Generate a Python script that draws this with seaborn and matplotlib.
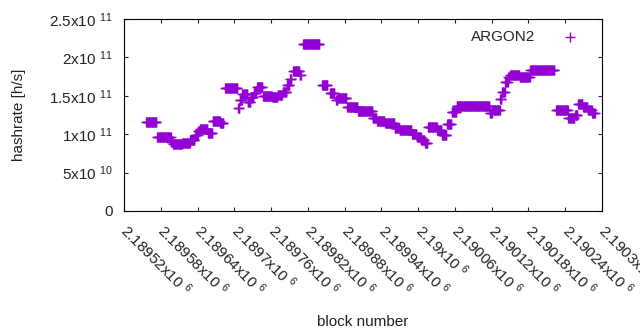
import numpy as np
import pandas as pd
import seaborn as sns
import matplotlib.pyplot as plt

## runs of blocks with the same estimated hashrate (block from, block to, rate in 10^9 h/s)
seg_start = [2189556, 2189574, 2189597, 2189600, 2189615, 2189628, 2189636, 2189641, 2189644, 2189657,
             2189665, 2189677, 2189685, 2189706, 2189709, 2189713, 2189722, 2189727, 2189732, 2189737,
             2189747, 2189762, 2189771, 2189779, 2189786, 2189791, 2189796, 2189807, 2189812, 2189843,
             2189856, 2189866, 2189869, 2189884, 2189902, 2189926, 2189933, 2189946, 2189962, 2189970,
             2189990, 2189998, 2190005, 2190011, 2190016, 2190031, 2190039, 2190047, 2190055, 2190063,
             2190117, 2190121, 2190134, 2190137, 2190142, 2190147, 2190150, 2190166, 2190183, 2190225,
             2190245, 2190256, 2190261, 2190269, 2190277, 2190284]
seg_end = [2189574, 2189597, 2189600, 2189615, 2189628, 2189636, 2189641, 2189644, 2189657, 2189665,
           2189677, 2189683, 2189706, 2189709, 2189713, 2189722, 2189727, 2189732, 2189737, 2189747,
           2189762, 2189771, 2189779, 2189786, 2189791, 2189794, 2189807, 2189810, 2189840, 2189853,
           2189864, 2189869, 2189884, 2189902, 2189926, 2189933, 2189946, 2189962, 2189970, 2189990,
           2189998, 2190005, 2190011, 2190016, 2190031, 2190039, 2190047, 2190055, 2190063, 2190117,
           2190121, 2190134, 2190137, 2190142, 2190147, 2190150, 2190166, 2190183, 2190223, 2190245,
           2190256, 2190261, 2190269, 2190277, 2190284, 2190289]
seg_rate = [116, 97, 90, 87, 89, 92, 99, 104, 107, 102,
            117, 115, 160, 134, 145, 152, 142, 148, 154, 162,
            150, 148, 151, 155, 164, 172, 182, 177, 218, 164,
            153, 145, 147, 136, 130, 121, 117, 114, 108, 105,
            100, 96, 92, 88, 109, 106, 99, 113, 129, 137,
            128, 132, 146, 155, 168, 175, 177, 174, 183, 132,
            121, 125, 139, 136, 132, 127]

x_ticks = np.arange(2189520, 2190301, 60)
y_ticks = [0, 5e10, 1e11, 1.5e11, 2e11, 2.5e11]
y_tick_labels = ['0', '5x10 $^{10}$', '1x10 $^{11}$', '1.5x10 $^{11}$', '2x10 $^{11}$', '2.5x10 $^{11}$']

## one row per block
blocks, rates = [], []
for s, e, r in zip(seg_start, seg_end, seg_rate):
    b = np.arange(s, e)
    blocks.extend(b)
    rates.extend([r * 1e9] * len(b))
df = pd.DataFrame({'block': blocks, 'hashrate': rates})

sns.set_style('ticks')
plt.rcParams['font.family'] = ['Liberation Sans', 'DejaVu Sans']
plt.rcParams['mathtext.fontset'] = 'custom'
plt.rcParams['mathtext.rm'] = 'Liberation Sans'
plt.rcParams['mathtext.it'] = 'Liberation Sans'
plt.rcParams['font.size'] = 11

fig = plt.figure(figsize=(6.4, 3.3), dpi=100)
ax = fig.add_axes([124 / 640, 1 - 211 / 330, 478 / 640, 192 / 330])

sns.scatterplot(data=df, x='block', y='hashrate', marker='+', s=45, color='#9400D3',
                linewidth=1.0, label='ARGON2', ax=ax)

ax.set_xlim(2189520, 2190300)
ax.set_ylim(0, 2.5e11)
ax.set_xticks(x_ticks)
ax.set_xticklabels(['%gx10 $^{6}$' % (v / 1e6) for v in x_ticks], rotation=-45,
                   ha='left', va='center', rotation_mode='anchor', color='#222222')
ax.set_yticks(y_ticks)
ax.set_yticklabels(y_tick_labels, color='#222222')
ax.tick_params(direction='in', length=3, width=0.8, top=True, right=True)
ax.tick_params(axis='y', pad=8)
ax.tick_params(axis='x', pad=12)
for sp in ax.spines.values():
    sp.set_linewidth(0.8)
    sp.set_color('black')

ax.set_xlabel('block number', color='#222222')
ax.set_ylabel('hashrate [h/s]', color='#222222')
ax.xaxis.set_label_coords(0.5, -0.54)
ax.yaxis.set_label_coords(-0.205, 0.5)

ax.legend(loc='upper right', bbox_to_anchor=(0.985, 0.99), markerfirst=False, frameon=False,
          handletextpad=1.3, borderaxespad=0.2)

plt.savefig('out.png', dpi=100)
